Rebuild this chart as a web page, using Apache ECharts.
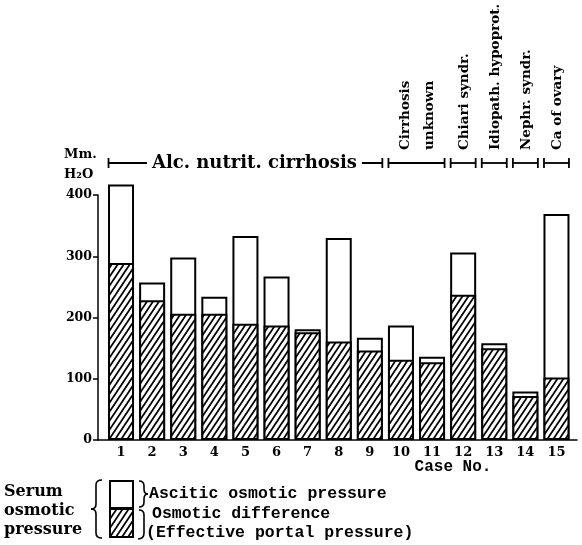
<!DOCTYPE html>
<html>
<head>
<meta charset="utf-8">
<script src="https://cdn.jsdelivr.net/npm/echarts@6/dist/echarts.min.js"></script>
<style>html,body{margin:0;padding:0;background:#fff}#c{width:582px;height:545px}</style>
</head>
<body>
<div id="c"></div>
<script>
// ---- data ----
const cases = [1, 2, 3, 4, 5, 6, 7, 8, 9, 10, 11, 12, 13, 14, 15];
const serumOsmoticPressure = [417, 257, 298, 234, 333, 267, 181, 330, 167, 187, 136, 306, 158, 79, 369];
const osmoticDifference = [289, 228, 206, 206, 190, 187, 176, 161, 146, 131, 127, 237, 150, 72, 102];
const yTicks = [0, 100, 200, 300, 400];
const groupLabels = ['Alc. nutrit. cirrhosis', 'Cirrhosis\nunknown', 'Chiari syndr.', 'Idiopath. hypoprot.', 'Nephr. syndr.', 'Ca of ovary'];
const groupFirstCase = [1, 10, 12, 13, 14, 15];
const groupLastCase = [9, 11, 12, 13, 14, 15];

function makeHatch() {
  const c = document.createElement('canvas');
  c.width = 6; c.height = 9;
  const g = c.getContext('2d');
  g.fillStyle = '#fff'; g.fillRect(0, 0, 6, 9);
  g.strokeStyle = '#000'; g.lineWidth = 1.8;
  g.beginPath();
  [-6, 0, 6].forEach(k => { g.moveTo(k - 1, 10.5); g.lineTo(k + 7, -1.5); });
  g.stroke();
  return c;
}
const hatch = { image: makeHatch(), repeat: 'repeat' };

const serif = 'DejaVu Serif';
const chart = echarts.init(document.getElementById('c'), null, { renderer: 'canvas' });
chart.setOption({
  animation: false,
  backgroundColor: '#fff',
  grid: { left: 98, right: 5, top: 195, bottom: 105, containLabel: false },
  xAxis: {
    type: 'value', min: 0.26, max: 15.66,
    axisLine: { show: true, onZero: false, lineStyle: { color: '#000', width: 1.5 } },
    axisTick: { show: false },
    splitLine: { show: false },
    axisLabel: { customValues: cases, color: '#000', fontFamily: serif, fontWeight: 'bold', fontSize: 13, margin: 6 }
  },
  yAxis: {
    type: 'value', min: 0, max: 400, interval: 100,
    axisLine: { show: true, lineStyle: { color: '#000', width: 1.5 } },
    axisTick: { show: true, length: 5, lineStyle: { color: '#000', width: 1.5 } },
    splitLine: { show: false },
    axisLabel: { customValues: yTicks, color: '#000', fontFamily: serif, fontWeight: 'bold', fontSize: 12.5, margin: 6 }
  },
  series: [
    {
      name: 'Ascitic osmotic pressure', type: 'bar', barWidth: 26, barGap: '-100%', clip: false,
      data: cases.map((c, i) => [c, serumOsmoticPressure[i]]),
      itemStyle: { color: '#fff', borderColor: '#000', borderWidth: 2 }
    },
    {
      name: 'Osmotic difference', type: 'bar', barWidth: 26, barGap: '-100%', clip: false,
      data: cases.map((c, i) => [c, osmoticDifference[i]]),
      itemStyle: { color: hatch, borderColor: '#000', borderWidth: 2 }
    }
  ]
});

// ---- annotations ----
const px = v => chart.convertToPixel({ xAxisIndex: 0 }, v);
const lineY = 163;
const els = [];
const stroke = { stroke: '#000', lineWidth: 1.8 };
groupLabels.forEach((lab, i) => {
  const x1 = px(groupFirstCase[i]) - 12.5, x2 = px(groupLastCase[i]) + 12.5;
  els.push({ type: 'line', shape: { x1, y1: lineY, x2, y2: lineY }, style: stroke });
  els.push({ type: 'line', shape: { x1, y1: lineY - 5, x2: x1, y2: lineY + 5 }, style: stroke });
  els.push({ type: 'line', shape: { x1: x2, y1: lineY - 5, x2, y2: lineY + 5 }, style: stroke });
  if (i === 0) {
    els.push({ type: 'text', x: (x1 + x2) / 2 + 9, y: lineY, style: { text: lab, fill: '#000', backgroundColor: '#fff', padding: [0, 5], font: 'bold 18px "DejaVu Serif"', align: 'center', verticalAlign: 'middle' } });
  } else {
    els.push({ type: 'text', x: (x1 + x2) / 2 + 1, y: 150, rotation: Math.PI / 2, style: { text: lab, fill: '#000', font: 'bold 13.5px "DejaVu Serif"', lineHeight: 24, align: 'left', verticalAlign: 'middle' } });
  }
});
// y axis unit
els.push({ type: 'text', x: 64, y: 155, style: { text: 'Mm.', fill: '#000', font: 'bold 13px "DejaVu Serif"', align: 'left', verticalAlign: 'middle' } });
els.push({ type: 'text', x: 64, y: 175, style: { text: 'H₂O', fill: '#000', font: 'bold 13px "DejaVu Serif"', align: 'left', verticalAlign: 'middle' } });
// x axis name
els.push({ type: 'text', x: 453, y: 467, style: { text: 'Case No.', fill: '#000', font: 'bold 16px "Liberation Mono"', align: 'center', verticalAlign: 'middle' } });

// braces built from lines and quadratic curves
const bs = { stroke: '#000', lineWidth: 1.6, fill: null };
function brace(xEnd, xStem, xTip, yTop, yMid, yBot) {
  const r = 5;
  return [
    { type: 'bezierCurve', shape: { x1: xEnd, y1: yTop, x2: xStem, y2: yTop + r, cpx1: xStem, cpy1: yTop }, style: bs },
    { type: 'line', shape: { x1: xStem, y1: yTop + r, x2: xStem, y2: yMid - r }, style: bs },
    { type: 'bezierCurve', shape: { x1: xStem, y1: yMid - r, x2: xTip, y2: yMid, cpx1: xStem, cpy1: yMid }, style: bs },
    { type: 'bezierCurve', shape: { x1: xTip, y1: yMid, x2: xStem, y2: yMid + r, cpx1: xStem, cpy1: yMid }, style: bs },
    { type: 'line', shape: { x1: xStem, y1: yMid + r, x2: xStem, y2: yBot - r }, style: bs },
    { type: 'bezierCurve', shape: { x1: xStem, y1: yBot - r, x2: xEnd, y2: yBot, cpx1: xStem, cpy1: yBot }, style: bs }
  ];
}
// legend
els.push({ type: 'text', x: 4, y: 511, style: { text: 'Serum\nosmotic\npressure', fill: '#000', font: 'bold 16px "DejaVu Serif"', lineHeight: 19, align: 'left', verticalAlign: 'middle' } });
els.push(...brace(102, 96, 91, 480, 509, 538));
els.push({ type: 'rect', shape: { x: 110, y: 481, width: 23, height: 27 }, style: { fill: '#fff', stroke: '#000', lineWidth: 2 } });
els.push({ type: 'rect', shape: { x: 110, y: 509, width: 23, height: 28 }, style: { fill: hatch, stroke: '#000', lineWidth: 2 } });
els.push(...brace(139, 144, 148, 481, 494, 507));
els.push({ type: 'bezierCurve', shape: { x1: 139, y1: 510, x2: 144, y2: 515, cpx1: 144, cpy1: 510 }, style: bs });
els.push({ type: 'line', shape: { x1: 144, y1: 515, x2: 144, y2: 533 }, style: bs });
els.push({ type: 'bezierCurve', shape: { x1: 144, y1: 533, x2: 138, y2: 539, cpx1: 144, cpy1: 539 }, style: bs });
const legFont = 'bold 16.5px "Liberation Mono"';
els.push({ type: 'text', x: 149, y: 494, style: { text: 'Ascitic osmotic pressure', fill: '#000', font: legFont, align: 'left', verticalAlign: 'middle' } });
els.push({ type: 'text', x: 152, y: 514, style: { text: 'Osmotic difference', fill: '#000', font: legFont, align: 'left', verticalAlign: 'middle' } });
els.push({ type: 'text', x: 146, y: 533, style: { text: '(Effective portal pressure)', fill: '#000', font: legFont, align: 'left', verticalAlign: 'middle' } });

chart.setOption({ graphic: { elements: els } });
</script>
</body>
</html>
